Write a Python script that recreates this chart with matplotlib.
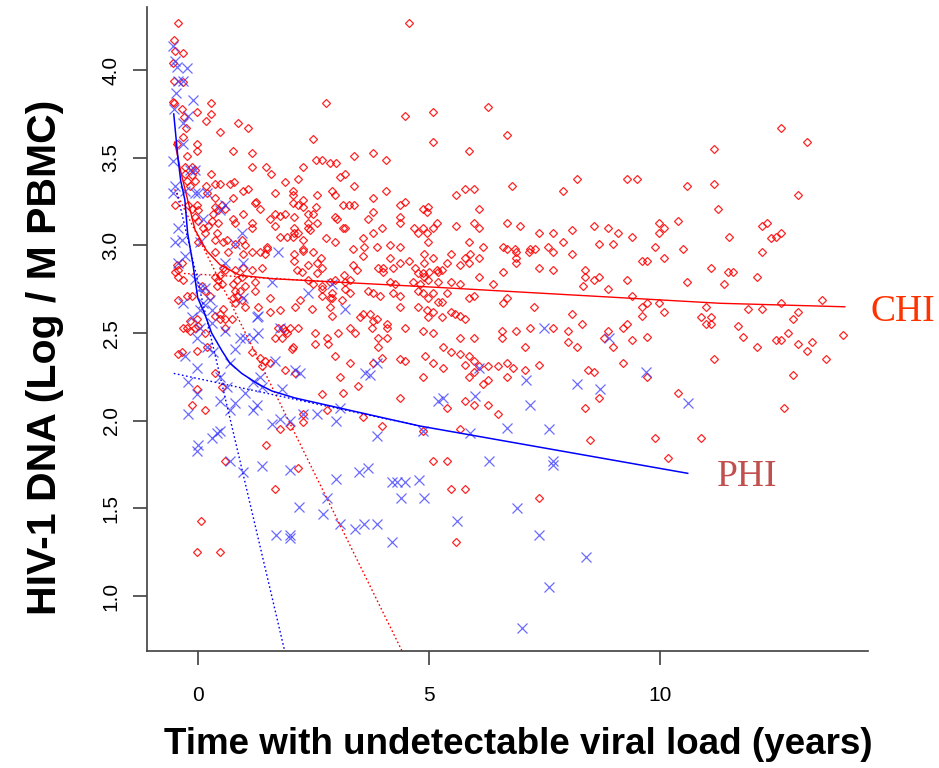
import matplotlib
matplotlib.use("Agg")
import matplotlib.pyplot as plt

plt.rcParams['font.family'] = ['Liberation Sans', 'DejaVu Sans']

# CHI (red diamonds): years undetectable, log10 HIV-1 DNA per M PBMC
chi_t = [
    -0.43, -0.52, -0.50, -0.32, -0.54, -0.52, -0.32, -0.54, -0.52, -0.35,
    0.28, 0.28, -0.02, -0.30, 0.17, 0.87, 1.08, 0.48, -0.26, -0.32,
    -0.02, -0.02, -0.45, -0.24, 0.76, 1.17, 1.17, 1.47, 1.58, 1.88,
    0.28, -0.28, -0.13, -0.06, -0.28, -0.13, -0.06, -0.24, -0.17, 0.17,
    0.37, 0.48, 0.69, 0.78, 0.97, 1.08, 1.67, 2.06, 2.06, 0.19,
    0.37, 0.76,
    2.77, 2.49, 4.57, 4.48, 5.09, 5.09, 3.79, 4.07, 3.38, 2.55,
    2.68, 2.27, 2.86, 2.99, 3.07, 3.18, 3.38, 4.07, 2.16, 2.58,
    2.90, 2.97, 3.79, 4.37, 4.48, 4.87, 4.98, 4.96, 5.17, 3.14,
    3.27, 3.38, 2.49, 2.38, 2.27, 2.06, 2.16, 2.27, 1.26, 1.34,
    0.97, 1.56, 1.67, 1.77, 1.88, 2.08, 2.38, 2.58, 2.97, 3.01,
    3.18, 3.68, 3.79, 3.98, 4.37, 4.37, 4.68, 4.76, 4.87, 4.96,
    5.09, 2.42, 2.08, 2.08, 2.16, 2.06, 1.67, 2.77, 2.97, 3.57,
    3.59, 3.79, 3.87, 4.16, 1.77, 1.93, 1.49, 3.35, 4.98, 4.37,
    3.14, 2.55, 2.27, 2.27, 2.38,
    2.08, 2.08, 2.49, 2.66, 2.38, 2.58, 3.57, 4.16, 4.37, 4.57,
    4.89, 5.09, 2.58, 3.90, 4.00, 4.00, 4.70, 4.76, 4.87, 5.00,
    5.17, 3.16, 4.16, 4.26, 4.65, 4.81, 4.98, 2.38, 2.49, 2.68,
    2.68, 2.86, 2.97, 3.18, 3.29, 3.18, 3.29, 2.68, 2.86, 2.27,
    2.14, 2.25, 2.68, 3.35, 3.44, 4.22, 2.90, 2.90, 3.68, 3.79,
    3.94, 4.22, 4.37, 4.76, 4.87, 4.98, 5.09, 2.10, 2.21, 2.47,
    2.86, 2.90, 3.12, 3.51, 3.57, 3.72, 3.79, 3.87, 4.09, 4.09,
    4.37, 4.76, 4.96, 5.09, 1.73, 1.84, 1.93, 1.67, 1.82, 2.16,
    2.53, 2.79, 3.03, 3.29, 3.40, 3.77, 3.90, 4.09, 3.90, 4.48,
    4.87, 5.09, 2.06, 2.53, 2.81, 2.97, 3.29, 3.79, 3.98, 4.37,
    4.48, 4.91, 5.09, 3.07, 3.46, 2.68, 3.14, 4.37, 3.57, 3.98,
    4.87, 2.27, 2.79, 1.77, 1.99, 2.27, 1.47,
    -0.50, -0.22, -0.13, -0.02, 0.00, 0.37, 0.43, 0.32, 0.52, 0.58,
    1.23, -0.06, 0.00, 0.30, 0.43, 0.11, 0.22, 0.80, 0.76, 1.17,
    1.17, 0.15, 0.41, 0.00, 0.37, 0.54, 0.63, 0.80, 0.95, 1.02,
    0.37, 0.65, 0.97, 1.17, 1.34, 1.45, 1.49, -0.35, -0.45, -0.43,
    -0.50, 0.54, 0.58, 0.48, 0.37, 0.43, 0.52, 0.80, 0.84, 0.97,
    0.95, 1.17, 1.39, 0.76, 0.80, 0.91, 0.84, 1.02, 1.23, 0.41,
    0.09, 0.15, -0.32, -0.43, -0.43, -0.24, -0.13, 0.26, 0.80, 0.95,
    1.02, 0.76, 0.54, 0.37, 0.48, 0.48, 0.58, 0.74, 1.23, 1.56,
    1.56, 1.30, 1.77, -0.02, -0.17, -0.32, -0.24, -0.17, -0.06, 0.00,
    0.15, 0.19, 0.58, -0.43, -0.35, -0.02, 1.17, 1.34, 1.45, 1.56,
    1.39, 0.37, 1.88, 1.99, 2.03, 1.88, 2.10, 0.52, -0.02, -0.13,
    0.15,
    0.06, -0.02, 0.48, 0.58, 2.16, 1.67, 5.09,
    6.28, 6.69, 5.87, 5.58, 5.78, 5.97, 6.80, 8.20, 7.90, 9.29,
    9.50, 10.58, 11.17, 11.17, 11.26, 5.58, 5.97, 6.08, 6.08, 6.69,
    6.97, 7.38, 7.68, 7.90, 8.10, 8.57, 8.87, 9.09, 9.39, 9.98,
    10.09, 9.98, 10.39, 5.87, 6.17, 6.60, 6.69, 6.86, 7.19, 7.29,
    7.58, 8.68, 8.98, 9.89, 10.50,
    6.88, 6.88, 6.88, 7.16, 7.68, 8.10, 10.09, 9.61, 9.72, 4.89,
    5.48, 5.78, 5.89, 5.87, 6.08, 5.19, 5.28, 4.89, 5.39, 5.67,
    5.48, 5.67, 5.19, 5.39, 6.08, 6.39, 6.60, 7.38, 7.68, 8.38,
    8.38, 8.33, 8.57, 8.68, 8.87, 9.29, 10.58, 11.10, 5.87, 5.97,
    5.19, 5.28, 4.98, 5.48, 5.56, 5.67, 5.78, 5.28, 6.60, 6.69,
    7.27, 8.10, 8.31, 9.39, 9.61, 9.61, 9.72, 9.98, 10.09, 10.89,
    11.00, 11.10, 11.10, 11.00, 6.58, 6.58, 6.88, 7.19, 7.68, 8.01,
    8.01, 8.20, 8.87, 8.79, 8.98, 9.20, 9.29, 9.39, 9.72, 7.08,
    5.97, 5.67, 5.30, 5.48, 5.67, 5.87, 5.97, 5.30, 5.78, 5.97,
    5.87, 6.08, 6.17, 6.28, 6.28, 6.49, 6.69, 6.69, 6.82, 7.08,
    7.38, 4.87, 8.44, 8.57, 9.20, 9.72, 11.17, 5.78, 5.97, 5.39,
    6.28, 6.49, 8.38, 8.68, 10.39, 5.67, 8.48, 9.89, 10.89, 10.17,
    5.39, 5.48, 5.78, 7.38, 5.58,
    12.62, 13.18, 12.99, 12.21, 12.32, 12.40, 12.51, 12.62, 11.49, 12.21,
    11.47, 11.58, 12.10, 11.39, 13.51, 12.62, 11.90, 12.21, 12.99, 12.88,
    11.69, 11.80, 12.77, 13.96, 12.51, 12.62, 12.10, 12.99, 13.29, 13.18,
    13.59, 12.88, 12.68,
]
chi_dna = [
    4.27, 4.17, 4.11, 4.10, 4.04, 3.94, 3.93, 3.82, 3.81, 3.78,
    3.81, 3.75, 3.76, 3.73, 3.71, 3.70, 3.67, 3.65, 3.67, 3.62,
    3.58, 3.54, 3.58, 3.51, 3.54, 3.53, 3.45, 3.45, 3.41, 3.36,
    3.41, 3.45, 3.45, 3.43, 3.41, 3.40, 3.37, 3.37, 3.34, 3.34,
    3.35, 3.35, 3.35, 3.36, 3.31, 3.32, 3.30, 3.31, 3.29, 3.30,
    3.27, 3.27,
    3.81, 3.61, 4.27, 3.74, 3.76, 3.59, 3.53, 3.49, 3.51, 3.49,
    3.49, 3.45, 3.47, 3.47, 3.39, 3.41, 3.34, 3.31, 3.38, 3.29,
    3.31, 3.29, 3.27, 3.23, 3.25, 3.21, 3.22, 3.19, 3.13, 3.23,
    3.23, 3.23, 3.18, 3.18, 3.26, 3.24, 3.23, 3.22, 3.25, 3.21,
    3.18, 3.15, 3.18, 3.17, 3.18, 3.16, 3.13, 3.13, 3.16, 3.15,
    3.10, 3.15, 3.19, 3.10, 3.16, 3.13, 3.10, 3.07, 3.10, 3.07,
    3.10, 3.09, 3.10, 3.07, 3.07, 3.05, 3.11, 3.04, 3.02, 3.04,
    2.99, 3.07, 2.99, 3.00, 3.05, 3.05, 2.99, 2.98, 3.02, 2.99,
    3.10, 3.22, 3.03, 2.98, 3.10,
    2.95, 2.91, 2.96, 2.93, 2.89, 2.90, 2.94, 2.93, 2.90, 2.91,
    2.95, 2.93, 2.84, 2.87, 2.87, 2.85, 2.87, 2.84, 2.84, 2.85,
    2.86, 2.83, 2.79, 2.78, 2.79, 2.78, 2.80, 2.80, 2.78, 2.77,
    2.75, 2.79, 2.80, 2.79, 2.80, 2.75, 2.73, 2.71, 2.70, 2.97,
    2.86, 2.85, 2.87, 2.89, 2.86, 2.87, 2.73, 2.70, 2.74, 2.73,
    2.71, 2.73, 2.71, 2.74, 2.73, 2.70, 2.73, 2.65, 2.69, 2.64,
    2.65, 2.60, 2.69, 2.59, 2.61, 2.61, 2.57, 2.58, 2.55, 2.53,
    2.65, 2.65, 2.63, 2.62, 2.53, 2.53, 2.50, 2.47, 2.47, 2.53,
    2.50, 2.47, 2.50, 2.53, 2.50, 2.53, 2.47, 2.47, 2.42, 2.53,
    2.51, 2.50, 2.42, 2.44, 2.44, 2.37, 2.33, 2.33, 2.36, 2.35,
    2.34, 2.37, 2.33, 2.25, 2.20, 2.15, 2.16, 2.13, 2.02, 1.97,
    1.94, 2.04, 2.06, 1.95, 1.97, 1.99, 1.86,
    3.23, 3.23, 3.21, 3.23, 3.20, 3.22, 3.20, 3.18, 3.23, 3.21,
    3.24, 3.16, 3.14, 3.14, 3.13, 3.10, 3.11, 3.13, 3.15, 3.13,
    3.10, 3.07, 3.07, 3.02, 3.03, 3.02, 3.03, 3.01, 3.03, 3.00,
    2.96, 2.96, 2.95, 2.96, 2.96, 2.95, 2.98, 2.90, 2.89, 2.86,
    2.85, 2.87, 2.86, 2.83, 2.82, 2.80, 2.78, 2.86, 2.80, 2.87,
    2.82, 2.86, 2.87, 2.78, 2.74, 2.74, 2.71, 2.77, 2.79, 2.77,
    2.77, 2.74, 2.80, 2.82, 2.69, 2.71, 2.71, 2.71, 2.67, 2.69,
    2.65, 2.70, 2.64, 2.60, 2.61, 2.58, 2.58, 2.58, 2.74, 2.70,
    2.62, 2.65, 2.63, 2.58, 2.57, 2.53, 2.53, 2.51, 2.53, 2.54,
    2.50, 2.42, 2.53, 2.38, 2.39, 2.40, 2.39, 2.36, 2.34, 2.33,
    2.31, 2.27, 2.51, 2.53, 2.41, 2.29, 2.27, 2.19, 2.18, 2.09,
    2.06,
    1.43, 1.25, 1.25, 1.77, 1.73, 1.61, 1.77,
    3.79, 3.63, 3.54, 3.29, 3.32, 3.32, 3.34, 3.38, 3.31, 3.38,
    3.38, 3.34, 3.55, 3.35, 3.21, 3.11, 3.13, 3.10, 3.21, 3.13,
    3.11, 3.07, 3.07, 3.02, 3.09, 3.11, 3.10, 3.07, 3.05, 3.13,
    3.10, 3.07, 3.14, 3.02, 2.99, 2.99, 2.98, 2.98, 2.98, 2.98,
    2.99, 3.01, 3.01, 2.99, 2.98,
    2.96, 2.93, 2.90, 2.96, 2.96, 2.95, 2.93, 2.91, 2.91, 2.90,
    2.95, 2.93, 2.95, 2.90, 2.93, 2.85, 2.86, 2.82, 2.90, 2.89,
    2.79, 2.78, 2.79, 2.73, 2.82, 2.78, 2.85, 2.87, 2.86, 2.86,
    2.82, 2.77, 2.80, 2.82, 2.75, 2.80, 2.79, 2.87, 2.70, 2.71,
    2.68, 2.68, 2.59, 2.62, 2.61, 2.60, 2.58, 2.59, 2.67, 2.70,
    2.65, 2.61, 2.55, 2.71, 2.65, 2.60, 2.67, 2.67, 2.62, 2.59,
    2.65, 2.59, 2.55, 2.55, 2.51, 2.47, 2.51, 2.53, 2.53, 2.51,
    2.45, 2.42, 2.51, 2.47, 2.42, 2.53, 2.55, 2.46, 2.48, 2.42,
    2.47, 2.47, 2.42, 2.39, 2.38, 2.37, 2.34, 2.30, 2.32, 2.28,
    2.25, 2.31, 2.21, 2.23, 2.31, 2.31, 2.33, 2.25, 2.30, 2.29,
    2.32, 2.25, 2.29, 2.28, 2.33, 2.25, 2.35, 2.11, 2.09, 2.07,
    2.09, 2.04, 2.07, 2.13, 2.16, 1.95, 1.89, 1.90, 1.90, 1.79,
    1.77, 1.61, 1.61, 1.56, 1.31,
    3.67, 3.59, 3.29, 3.11, 3.13, 3.04, 3.05, 3.07, 3.05, 2.96,
    2.85, 2.85, 2.82, 2.78, 2.69, 2.67, 2.64, 2.64, 2.62, 2.58,
    2.54, 2.48, 2.50, 2.49, 2.46, 2.46, 2.42, 2.44, 2.45, 2.40,
    2.35, 2.26, 2.07,
]

# PHI (blue crosses)
phi_t = [
    -0.54, -0.50, -0.45, -0.24, -0.43, -0.32, -0.48, -0.11, -0.52, -0.22,
    -0.32, -0.32, -0.54, -0.17, -0.06, -0.50, -0.54, -0.28, -0.06, 0.00,
    0.19, 0.58, 0.48, 0.11, -0.43, -0.50, -0.35, 0.04, -0.28, -0.43,
    -0.06, 0.04, 0.15, 0.11, 0.26, -0.32, 0.04, 0.30, 0.58, 0.97,
    0.95, 0.80, -0.13, -0.02, 0.04, 0.30, 0.58, 0.19, 0.32, -0.28,
    -0.02, 0.80, 0.69, 0.91, 1.02, 1.19, 1.30, 1.30, 0.97, -0.22,
    -0.02, 0.48, 0.63, 0.48, 0.80, 0.69, 1.02, 1.19, 1.34, 1.39,
    1.19, 1.28, -0.22, 0.00, 0.30, 0.41, 0.48, -0.02, 1.60, 1.77,
    1.99, 1.82, 1.77, 1.73, 1.60, 2.38, 2.90, 3.18, 1.28, 1.67,
    2.10, 2.21, 3.61, 3.72, 3.87, 3.07, 2.58, 2.27, 2.99, 3.87,
    4.87, 5.19, 0.69, 0.97, 1.39, 1.99, 2.99, 3.48, 3.68, 2.19,
    2.79, 2.71, 1.69, 1.99, 1.99, 3.07, 3.40, 3.59, 3.87, 4.20,
    4.20, 4.31, 4.48, 4.78, 4.39, 4.89, 7.49, 8.90, 6.08, 7.10,
    8.20, 8.70, 9.70, 10.61, 5.30, 6.00, 7.19, 5.89, 6.69, 7.60,
    6.30, 7.68, 7.68, 6.90, 5.61, 7.38, 8.40, 7.60, 7.01,
]
phi_dna = [
    4.14, 4.05, 4.02, 4.01, 3.94, 3.94, 3.87, 3.83, 3.78, 3.74,
    3.70, 3.58, 3.48, 3.43, 3.43, 3.34, 3.30, 3.31, 3.30, 3.30,
    3.30, 3.23, 3.20, 3.15, 3.10, 3.02, 3.03, 3.02, 2.94, 2.90,
    2.81, 2.76, 2.76, 2.67, 2.69, 2.67, 2.63, 2.63, 2.90, 2.90,
    3.07, 3.01, 2.59, 2.47, 2.53, 2.56, 2.51, 2.42, 2.39, 2.37,
    2.30, 2.41, 2.33, 2.47, 2.47, 2.47, 2.50, 2.60, 2.70, 2.22,
    2.15, 2.25, 2.19, 2.11, 2.10, 2.06, 2.16, 2.22, 2.25, 2.19,
    2.06, 2.09, 2.04, 1.86, 1.90, 1.93, 1.94, 1.83, 1.98, 2.01,
    2.00, 2.18, 2.53, 2.96, 2.79, 2.73, 2.78, 2.64, 2.59, 2.34,
    2.29, 2.27, 2.27, 2.26, 2.33, 2.07, 2.04, 2.04, 2.00, 1.91,
    1.94, 2.11, 1.77, 1.71, 1.74, 1.72, 1.67, 1.71, 1.73, 1.51,
    1.56, 1.47, 1.35, 1.35, 1.33, 1.41, 1.38, 1.41, 1.41, 1.31,
    1.65, 1.65, 1.65, 1.66, 1.56, 1.56, 2.53, 2.47, 2.30, 2.23,
    2.21, 2.18, 2.28, 2.10, 2.13, 2.14, 2.09, 1.93, 1.96, 1.95,
    1.77, 1.75, 1.77, 1.50, 1.43, 1.35, 1.22, 1.05, 0.82,
]

# fitted decay curves
chi_fit_t = [-0.50, -0.35, -0.22, -0.06, 0.19, 0.48, 0.91, 1.62, 2.36, 3.07, 5.24, 11.3, 14.0]
chi_fit_dna = [3.59, 3.40, 3.26, 3.09, 2.97, 2.89, 2.83, 2.81, 2.80, 2.79, 2.76, 2.67, 2.65]
chi_fast_t = [-0.50, 4.42]
chi_fast_dna = [3.32, 0.686]
chi_slow_t = [-0.30, 3.07]
chi_slow_dna = [2.84, 2.79]

phi_fit_t = [-0.52, -0.43, -0.37, -0.28, -0.22, -0.11, 0.00, 0.15, 0.30, 0.52,
             0.69, 0.95, 1.30, 1.60, 2.10, 4.80, 10.6]
phi_fit_dna = [3.75, 3.50, 3.37, 3.26, 3.07, 2.90, 2.70, 2.61, 2.50, 2.40,
               2.33, 2.27, 2.21, 2.17, 2.13, 1.97, 1.70]
phi_fast_t = [-0.45, 1.88]
phi_fast_dna = [3.30, 0.686]
phi_slow_t = [-0.52, 4.80]
phi_slow_dna = [2.27, 1.97]

fig = plt.figure(figsize=(9.39, 7.68), dpi=100)
ax = fig.add_axes([0.1565, 0.1523, 0.7678, 0.8385])

ax.plot(chi_t, chi_dna, linestyle='none', marker='D', ms=3.6, mfc='none',
        mec='red', mew=0.9, alpha=0.85, clip_on=False)
ax.plot(phi_t, phi_dna, linestyle='none', marker='x', ms=7.5,
        mec='#3a3aff', mew=0.9, alpha=0.75, clip_on=False)

dotted = (0, (1.2, 1.8))
ax.plot(chi_fast_t, chi_fast_dna, color='red', lw=1.0, linestyle=dotted)
ax.plot(chi_slow_t, chi_slow_dna, color='red', lw=1.0, linestyle=dotted)
ax.plot(phi_fast_t, phi_fast_dna, color='blue', lw=1.0, linestyle=dotted)
ax.plot(phi_slow_t, phi_slow_dna, color='blue', lw=1.0, linestyle=dotted)
ax.plot(chi_fit_t, chi_fit_dna, color='red', lw=1.0)
ax.plot(phi_fit_t, phi_fit_dna, color='blue', lw=1.1)

ax.set_xlim(-1.1, 14.5)
ax.set_ylim(0.686, 4.36)
ax.set_xticks([0, 5, 10])
ax.set_yticks([1.0, 1.5, 2.0, 2.5, 3.0, 3.5, 4.0])
ax.set_yticklabels(['1.0', '1.5', '2.0', '2.5', '3.0', '3.5', '4.0'],
                   rotation=90, va='center')

for side in ['top', 'right']:
    ax.spines[side].set_visible(False)
for side in ['left', 'bottom']:
    ax.spines[side].set_color('#404040')
    ax.spines[side].set_linewidth(1.2)

ax.tick_params(axis='both', direction='out', length=10, width=1.2,
               color='#404040', labelsize=15)
ax.tick_params(axis='x', pad=15)
ax.tick_params(axis='y', pad=9)

ax.text(14.55, 2.62, 'CHI', color='#ff3300', fontsize=27,
        family='Liberation Serif', ha='left', va='center', clip_on=False)
ax.text(11.23, 1.68, 'PHI', color='#c0504d', fontsize=27,
        family='Liberation Serif', ha='left', va='center', clip_on=False)

fig.text(45 / 939, 1 - 357 / 768, 'HIV-1 DNA (Log / M PBMC)', rotation=90,
         ha='center', va='center', fontsize=29.5, fontweight='bold')
fig.text(518 / 939, 1 - 745 / 768, 'Time with undetectable viral load (years)',
         ha='center', va='center', fontsize=26.5, fontweight='bold')

fig.savefig('out.png', dpi=100)
